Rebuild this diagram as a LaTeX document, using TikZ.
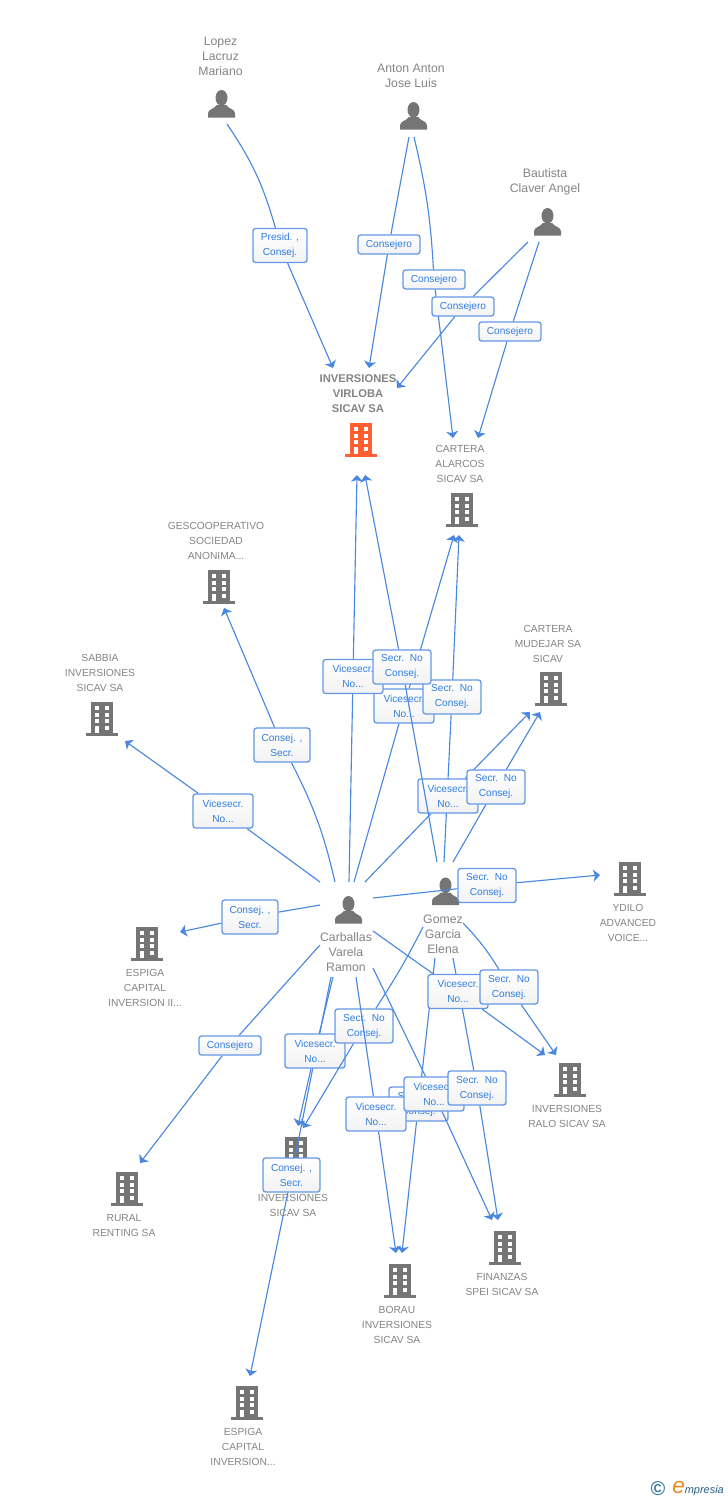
\documentclass[tikz,border=0pt]{standalone}
\usepackage{fontspec}
\setmainfont{Liberation Sans}
\usetikzlibrary{arrows.meta}
\definecolor{iconGray}{HTML}{757575}
\definecolor{iconOrange}{HTML}{FF5F33}
\definecolor{txtGray}{HTML}{858585}
\definecolor{linkBlue}{HTML}{4A88E0}
\definecolor{boxBlue}{HTML}{6498E6}
\definecolor{lblBlue}{HTML}{2F7DE1}
\definecolor{logoTeal}{HTML}{3D7F9C}
\definecolor{logoOrange}{HTML}{EC8A24}
\definecolor{logoBlue}{HTML}{2A5F86}
\tikzset{
  x=0.75pt,y=-0.75pt,
  bld/.pic={
    \fill[#1] (-11,-17) rectangle (11,14);
    \fill[#1] (-16,13.5) rectangle (16,16.5);
    \fill[white] (-7,-12.7) rectangle (-2.7,-8.7);
    \fill[white] (3,-12.7) rectangle (7.3,-8.7);
    \fill[white] (-7,-6.3) rectangle (-2.7,-2);
    \fill[white] (3,-6.3) rectangle (7.3,-2);
    \fill[white] (-7,0) rectangle (-2.7,4);
    \fill[white] (3,0) rectangle (7.3,4);
    \fill[white] (-7,6.5) rectangle (-2.7,14);
    \fill[white] (3,6.5) rectangle (7.3,11);
  },
  psn/.pic={
    \fill[iconGray] (0,-6.2) ellipse[x radius=6,y radius=7.8];
    \fill[iconGray] (-13.5,13.5) -- (-13.5,9.5) .. controls (-13.5,5) and (-8,5.5) .. (-4.5,1)
      -- (4.5,1) .. controls (8,5.5) and (13.5,5) .. (13.5,9.5) -- (13.5,13.5) -- cycle;
  },
  ent/.style={inner sep=0pt,align=center,text=txtGray,font=\fontsize{7.7}{11.25}\selectfont},
  peo/.style={inner sep=0pt,align=center,text=txtGray,font=\fontsize{9.2}{11.25}\selectfont},
  mainent/.style={inner sep=0pt,align=center,text=txtGray,font=\fontsize{8.4}{11.25}\selectfont\bfseries},
  lbox/.style={draw=boxBlue,line width=1pt,rounded corners=2pt,top color=white,bottom color=black!5,
    inner sep=0pt,align=center,text=lblBlue,font=\fontsize{7.6}{11.25}\selectfont,
    minimum width=#1*0.75pt,minimum height=25.5pt},
  link/.style={draw=linkBlue,line width=0.85pt},
  arrowed/.style={-{Stealth[length=5pt,width=9pt,inset=1.2pt]}},
}
\newcommand{\lnk}[8][]{%
  \draw[link] ([shift={(#3,#4)}]#2.center) to[#1] (#5);
  \draw[link,arrowed] (#5) -- ([shift={(#7,#8)}]#6.center);
}
\begin{document}
\begin{tikzpicture}
\useasboundingbox (0,0) rectangle (728,1500);
\fill[white] (0,0) rectangle (728,1500);

% people
\node[peo] (lop) at (220.5,56) {Lopez\\Lacruz\\Mariano};
\pic at (221.5,104) {psn};
\node[peo] (ant) at (411,75.5) {Anton Anton\\Jose Luis};
\pic at (413.5,116) {psn};
\node[peo] (bau) at (545,181.5) {Bautista\\Claver Angel};
\pic at (547.5,222) {psn};
\node[peo] (car) at (346,952) {Carballas\\Varela\\Ramon};
\pic at (348.5,910) {psn};
\node[peo] (gom) at (443,934) {Gomez\\Garcia\\Elena};
\pic at (445.5,891.5) {psn};

% companies
\node[mainent] (vir) at (358,394) {INVERSIONES\\VIRLOBA\\SICAV SA};
\pic at (361,440) {bld=iconOrange};
\node[ent] (ala) at (460,464) {CARTERA\\ALARCOS\\SICAV SA};
\pic at (462,510) {bld=iconGray};
\node[ent] (ges) at (216,541) {GESCOOPERATIVO\\SOCIEDAD\\ANONIMA...};
\pic at (219,587) {bld=iconGray};
\node[ent] (sab) at (100,673) {SABBIA\\INVERSIONES\\SICAV SA};
\pic at (102,719) {bld=iconGray};
\node[ent] (mud) at (548,644) {CARTERA\\MUDEJAR SA\\SICAV};
\pic at (551,689) {bld=iconGray};
\node[ent] (ydi) at (628,923) {YDILO\\ADVANCED\\VOICE...};
\pic at (630,879) {bld=iconGray};
\node[ent] (esa) at (145,988) {ESPIGA\\CAPITAL\\INVERSION II...};
\pic at (147,944) {bld=iconGray};
\node[ent] (rur) at (124,1225.5) {RURAL\\RENTING SA};
\pic at (127,1189) {bld=iconGray};
\node[ent] (inv) at (293,1205.5) {INVERSIONES\\SICAV SA};
\pic at (296,1154) {bld=iconGray};
\node[ent] (ral) at (567,1116.5) {INVERSIONES\\RALO SICAV SA};
\pic at (570,1080) {bld=iconGray};
\node[ent] (fin) at (502,1284.5) {FINANZAS\\SPEI SICAV SA};
\pic at (505,1248) {bld=iconGray};
\node[ent] (bor) at (397,1325) {BORAU\\INVERSIONES\\SICAV SA};
\pic at (400,1281) {bld=iconGray};
\node[ent] (esb) at (243,1447) {ESPIGA\\CAPITAL\\INVERSION...};
\pic at (247,1403) {bld=iconGray};

% connectors and their labels, in stacking order
\node[lbox=54] (La) at (280,245.5) {Presid. ,\\Consej.};
\lnk[bend left=9]{lop}{6.5}{68}{La}{vir}{-25}{-26}
\node[lbox=62,minimum height=14.25pt] (Lb) at (389,244.5) {Consejero};
\lnk{ant}{-2}{61.5}{Lb}{vir}{11}{-26}
\node[lbox=62,minimum height=14.25pt] (Lc) at (434,279.5) {Consejero};
\lnk[bend left=5]{ant}{3}{61.5}{Lc}{ala}{-7}{-26}
\node[lbox=62,minimum height=14.25pt] (Ld) at (463,306.5) {Consejero};
\lnk{bau}{-17}{60.5}{Ld}{vir}{39}{-6}
\node[lbox=62,minimum height=14.25pt] (Le) at (510,331.5) {Consejero};
\lnk{bau}{-6}{60.5}{Le}{ala}{18}{-26}

\node[lbox=60] (Lh) at (404,706) {Vicesecr.\\No...};
\lnk{car}{8}{-70}{Lh}{ala}{-6}{71}
\node[lbox=60] (Lf) at (353,676.5) {Vicesecr.\\No...};
\lnk{car}{3}{-70}{Lf}{vir}{-1}{81}
\node[lbox=58] (Li) at (452,697) {Secr.\ \ No\\Consej.};
\lnk{gom}{1}{-72}{Li}{ala}{-1}{71}
\node[lbox=60] (Lj) at (448,796) {Vicesecr.\\No...};
\lnk{car}{19}{-70}{Lj}{mud}{-18}{68}
\node[lbox=58] (Lg) at (402,667) {Secr.\ \ No\\Consej.};
\lnk{gom}{-6}{-72}{Lg}{vir}{7}{81}
\node[lbox=58] (Lk) at (496,787) {Secr.\ \ No\\Consej.};
\lnk{gom}{10}{-72}{Lk}{mud}{-8}{68}

\node[lbox=56] (Ll) at (282,745) {Consej. ,\\Secr.};
\lnk[bend right=7]{car}{-11}{-70}{Ll}{ges}{8}{67}
\node[lbox=60] (Lm) at (223,811) {Vicesecr.\\No...};
\lnk{car}{-26}{-70}{Lm}{sab}{25}{68}
\node[lbox=56] (Ln) at (250,917) {Consej. ,\\Secr.};
\lnk{car}{-26}{-47}{Ln}{esa}{35}{-56}
\node[lbox=58] (Lo) at (487,885.5) {Secr.\ \ No\\Consej.};
\lnk{car}{27}{-54}{Lo}{ydi}{-28}{-48}
\node[lbox=62,minimum height=14.25pt] (Lr) at (230,1045.5) {Consejero};
\lnk{car}{-26}{-7}{Lr}{rur}{16}{-62.5}

\node[lbox=57] (Lu) at (291.5,1175) {Consej. ,\\Secr.};
\lnk{car}{-15}{25}{Lu}{esb}{7}{-71}
\node[lbox=60] (Lt) at (315,1051) {Vicesecr.\\No...};
\lnk{car}{-13}{25}{Lt}{inv}{5}{-79.5}
\node[lbox=58] (Ls) at (364,1026) {Secr.\ \ No\\Consej.};
\lnk[bend left=3]{gom}{-20}{-7}{Ls}{inv}{10}{-77.5}
\node[lbox=59] (Lw) at (418.5,1104) {Secr.\ \ No\\Consej.};
\lnk{gom}{-8}{24}{Lw}{bor}{5}{-72}
\node[lbox=60] (Lv) at (376,1114) {Vicesecr.\\No...};
\lnk{car}{10}{25}{Lv}{bor}{-1}{-72}
\node[lbox=60] (Lx) at (434,1094) {Vicesecr.\\No...};
\lnk{car}{27}{16}{Lx}{fin}{-10}{-64.5}
\node[lbox=58] (Ly) at (477,1088) {Secr.\ \ No\\Consej.};
\lnk{gom}{10}{24}{Ly}{fin}{-4}{-64.5}
\node[lbox=60] (Lp) at (458,991.5) {Vicesecr.\\No...};
\lnk{car}{27}{-21}{Lp}{ral}{-22}{-61.5}
\node[lbox=58] (Lq) at (509,987) {Secr.\ \ No\\Consej.};
\lnk[bend left=6]{gom}{20}{-11}{Lq}{ral}{-11}{-61.5}

% logo
\node[inner sep=0pt,text=logoTeal,font=\bfseries\fontsize{15}{15}\selectfont] (copyr) at (658,1489) {©};
\node[inner sep=0pt,anchor=base west,font=\itshape\fontsize{8.2}{10}\selectfont,text=logoBlue] (logo) at (672,1493)
  {{\fontsize{17}{17}\selectfont\color{logoOrange}e}mpresia};
\end{tikzpicture}
\end{document}
